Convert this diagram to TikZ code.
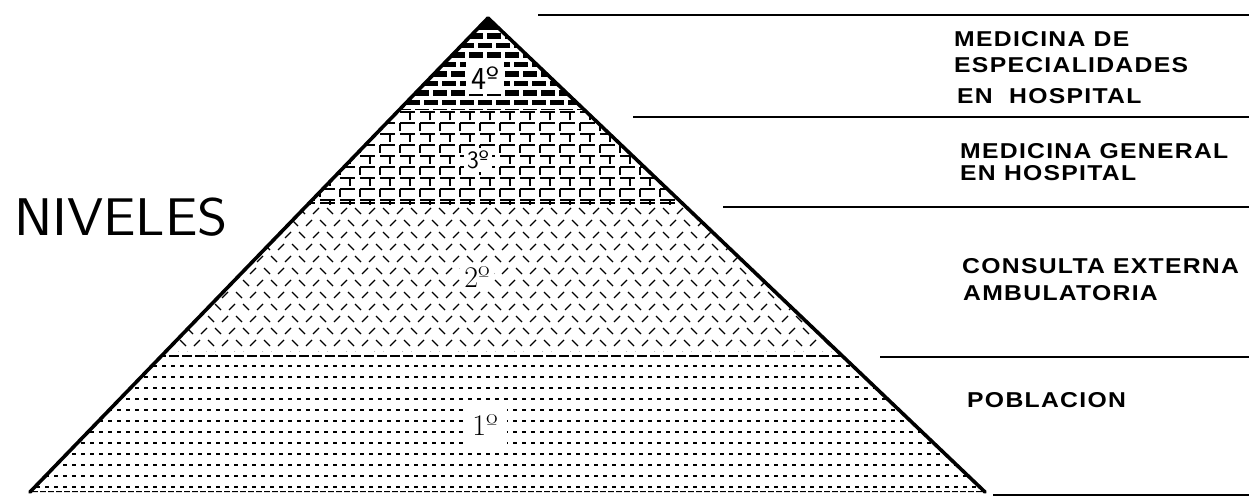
\documentclass[tikz,border=0pt]{standalone}
\usepackage{fontspec}
\newfontfamily\lblfont[LetterSpace=6, FakeStretch=1.15]{Liberation Sans}
\tikzset{
  edge/.style={line width=3.6pt, line cap=round, line join=round},
  rule/.style={line width=1.3pt},
  lbl/.style={anchor=base west, inner sep=0pt, font=\lblfont\bfseries\fontsize{21.5pt}{21.5pt}\selectfont},
  ordsans/.style={fill=white, inner sep=5pt, font=\sffamily\fontsize{32pt}{32pt}\selectfont},
  ordserif/.style={fill=white, inner sep=4pt, font=\fontsize{30pt}{30pt}\selectfont},
  dashrow/.style={line width=1.3pt, dash pattern=on 4pt off 5pt},
  brick/.style={line width=1.1pt},
  diag/.style={line width=1.2pt},
}
\begin{document}
\begin{tikzpicture}[x=1pt,y=-1pt]
\useasboundingbox (0,0) rectangle (1249,500);
\coordinate (apex) at (488,18);
\coordinate (bl) at (30,492);
\coordinate (br) at (985,492);

% band 1 : horizontal dashes
\begin{scope}
  \clip (apex) -- (br) -- (bl) -- cycle;
  \clip (0,353) rectangle (1249,496);
  \draw[line width=1.5pt, dash pattern=on 10pt off 3pt] (0,356) -- (1000,356);
  \foreach \y in {366,377,...,488} \draw[dashrow] (0,\y) -- (1000,\y);
  \draw[line width=1.7pt, dash pattern=on 6pt off 2pt] (0,492) -- (1000,492);
\end{scope}

% band 2 : alternating short diagonals
\begin{scope}
  \clip (apex) -- (br) -- (bl) -- cycle;
  \clip (0,204) rectangle (1249,351);
  \foreach \k in {0,...,12} {
    \foreach \j in {0,...,64} {
      \pgfmathsetmacro\xx{50+14*\j+7*mod(\k,2)}
      \pgfmathsetmacro\yy{211+12*\k}
      \pgfmathtruncatemacro\p{mod(\j+\k,2)}
      \ifnum\p=0
        \draw[diag] (\xx-3,\yy-3) -- (\xx+3,\yy+3);
      \else
        \draw[diag] (\xx-3,\yy+3) -- (\xx+3,\yy-3);
      \fi
    }
  }
\end{scope}

% band 3 : outlined bricks
\begin{scope}
  \clip (apex) -- (br) -- (bl) -- cycle;
  \clip (0,111) rectangle (1249,204);
  \foreach \k in {0,...,8} {
    \pgfmathsetmacro\yy{112+11*\k}
    \draw[brick, dash pattern=on 15pt off 5pt] (300,\yy) -- (700,\yy);
    \foreach \i in {0,...,20} {
      \pgfmathsetmacro\xx{290+20*\i+10*mod(\k,2)}
      \draw[brick] (\xx,\yy) -- (\xx,\yy+8);
    }
  }
  \draw[brick, dash pattern=on 15pt off 5pt] (300,203) -- (700,203);
\end{scope}

% band 4 : dark bricks
\begin{scope}
  \clip (apex) -- (br) -- (bl) -- cycle;
  \clip (0,0) rectangle (1249,110);
  \fill (470,10) rectangle (510,30);
  \foreach \k in {0,...,9} {
    \pgfmathsetmacro\yy{24+9.5*\k}
    \foreach \i in {0,...,14} {
      \pgfmathsetmacro\xx{370+18*\i+9*mod(\k,2)}
      \fill (\xx,\yy) rectangle (\xx+14,\yy+5.5);
    }
  }
\end{scope}

% pyramid edges
\draw[edge] (bl) -- (apex) -- (br);

% level labels inside
\node[ordsans] (n4) at (485,78) {4º};
\node[font=\sffamily\fontsize{25pt}{25pt}\selectfont, fill=white, inner sep=3pt] (n3) at (478,160) {3º};
\node[ordserif] (n2) at (477,277) {2º};
\node[ordserif, inner sep=9pt] (n1) at (485,425) {1º};

\node[anchor=base west, inner sep=0pt, xscale=1.09, font=\sffamily\fontsize{53pt}{53pt}\selectfont] (niv) at (14,235) {NIVELES};

% right-hand rules
\coordinate (r1a) at (538,15);  \coordinate (r1b) at (1249,15);
\coordinate (r2a) at (633,117); \coordinate (r2b) at (1249,117);
\coordinate (r3a) at (723,207); \coordinate (r3b) at (1249,207);
\coordinate (r4a) at (880,357); \coordinate (r4b) at (1249,357);
\coordinate (r5a) at (993,495); \coordinate (r5b) at (1249,495);
\draw[rule] (r1a) -- (r1b);
\draw[rule] (r2a) -- (r2b);
\draw[rule] (r3a) -- (r3b);
\draw[rule] (r4a) -- (r4b);
\draw[rule] (r5a) -- (r5b);

% right-hand labels
\node[lbl] (t1a) at (954,47) {MEDICINA DE};
\node[lbl] (t1b) at (954,73) {ESPECIALIDADES};
\node[lbl] (t1c) at (957,103) {EN\ \ HOSPITAL};
\node[lbl] (t2a) at (960,158) {MEDICINA GENERAL};
\node[lbl] (t2b) at (960,180) {EN HOSPITAL};
\node[lbl] (t3a) at (962,273) {CONSULTA EXTERNA};
\node[lbl] (t3b) at (963,300) {AMBULATORIA};
\node[lbl] (t4a) at (967,407) {POBLACION};
\end{tikzpicture}
\end{document}
